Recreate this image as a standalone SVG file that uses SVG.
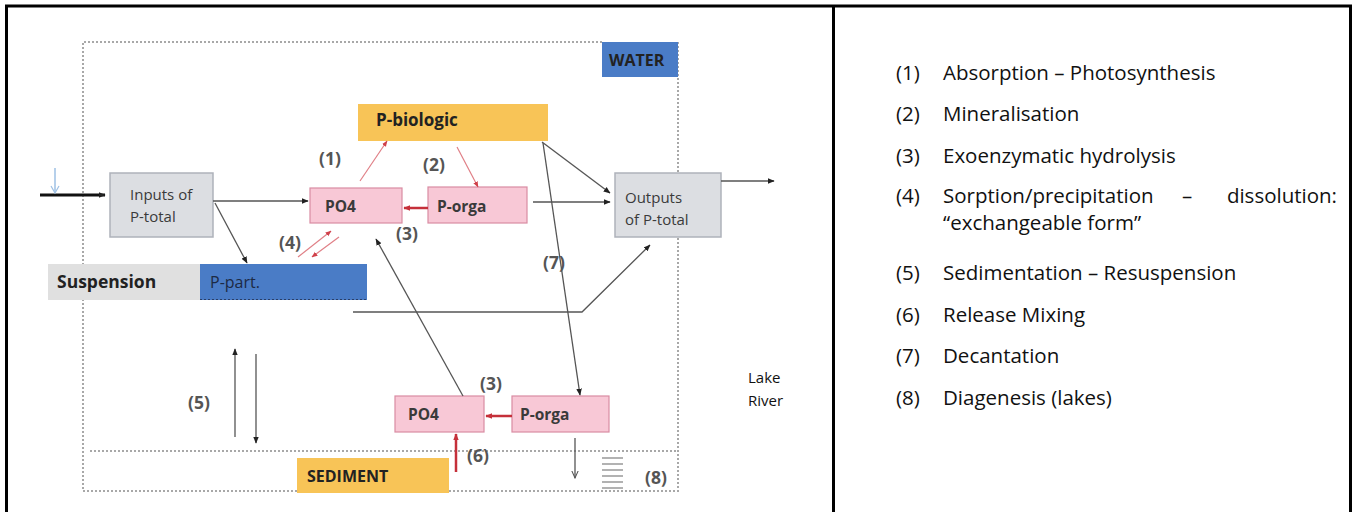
<svg xmlns="http://www.w3.org/2000/svg" width="1352" height="512" viewBox="0 0 1352 512">
<style>
text{font-family:"Open Sans","Noto Sans","Liberation Sans",sans-serif}
.lbl{font-size:15px;fill:#3a3a3a}
.box{font-size:15.5px;fill:#3a3a3a;font-weight:bold}
.num{font-size:17.5px;fill:#555;font-weight:bold}
.bold{font-weight:bold;fill:#222}
.grey{fill:#dcdee2;stroke:#aeb2ba;stroke-width:1.5}
.pink{fill:#f8c8d6;stroke:#d98ca2;stroke-width:1.2}
.orange{fill:#f8c457}
.blue{fill:#4a7cc6}
.dot{fill:none;stroke:#a8a8a8;stroke-width:2;stroke-dasharray:2 2}
.c{fill:none;stroke:#555;stroke-width:1.3}
.cr{fill:none;stroke:#c5303a;stroke-width:2.5}
.cp{fill:none;stroke:#e07f86;stroke-width:1.2}
.leg{font-size:20.5px;fill:#111}
.frame{stroke:#000;stroke-width:3;fill:none}
</style>
<defs>
<marker id="ah" viewBox="0 0 10 10" refX="9" refY="5" markerWidth="7" markerHeight="7" markerUnits="userSpaceOnUse" orient="auto"><path d="M0,1 L10,5 L0,9 z" fill="#222"/></marker>
<marker id="ahr" viewBox="0 0 10 10" refX="9" refY="5" markerWidth="7" markerHeight="7" markerUnits="userSpaceOnUse" orient="auto"><path d="M0,1 L10,5 L0,9 z" fill="#c5303a"/></marker>
<marker id="ahp" viewBox="0 0 10 10" refX="9" refY="5" markerWidth="6" markerHeight="6" markerUnits="userSpaceOnUse" orient="auto"><path d="M0,1 L10,5 L0,9 z" fill="#d0404a"/></marker>
<marker id="ahv" viewBox="0 0 10 10" refX="9" refY="5" markerWidth="8" markerHeight="8" markerUnits="userSpaceOnUse" orient="auto"><path d="M0,1 L9,5 L0,9" fill="none" stroke="#555" stroke-width="1.3"/></marker>
</defs>
<rect width="1352" height="512" fill="#fff"/>
<g id="frame">
<path class="frame" d="M6.5,512 V6 H1350.5 V512"/>
<line x1="833.5" y1="6" x2="833.5" y2="512" stroke="#000" stroke-width="3"/>
</g>
<g id="zones">
<path class="dot" d="M602,42 H83 V491 H297"/>
<path class="dot" d="M449,491 H678 V42"/>
<line class="dot" x1="90" y1="451" x2="678" y2="451"/>
</g>
<g id="water"><rect class="blue" x="602" y="42" width="76" height="35"/><text class="bold" x="609" y="66" font-size="16">WATER</text></g>
<g id="sediment"><rect class="orange" x="297" y="458" width="152" height="35"/><text class="bold" x="307" y="482" font-size="16">SEDIMENT</text></g>
<g id="suspension"><rect x="48" y="264" width="152" height="36" fill="#e0e0e0"/><text class="bold" x="57" y="288" font-size="17.5">Suspension</text></g>
<g id="p-part"><rect class="blue" x="200" y="264" width="167" height="36"/><line x1="200" y1="299.5" x2="367" y2="299.5" stroke="#2a3e66" stroke-width="1.2" stroke-dasharray="2 2"/><text x="210" y="288" font-size="16" fill="#1d2a44">P-part.</text></g>
<g id="p-biologic"><rect class="orange" x="358" y="104" width="190" height="37"/><text class="bold" x="376" y="126" font-size="17">P-biologic</text></g>
<g id="inputs"><rect class="grey" x="110" y="173" width="103" height="64"/><text class="lbl" x="130" y="200">Inputs of</text><text class="lbl" x="130" y="222">P-total</text></g>
<g id="outputs"><rect class="grey" x="615" y="173" width="106" height="64"/><text class="lbl" x="625" y="203">Outputs</text><text class="lbl" x="625" y="225">of P-total</text></g>
<g id="po4-top"><rect class="pink" x="310" y="188" width="92" height="35"/><text class="box" x="325" y="212">PO4</text></g>
<g id="porga-top"><rect class="pink" x="428" y="187" width="99" height="36"/><text class="box" x="437" y="212">P-orga</text></g>
<g id="po4-bot"><rect class="pink" x="395" y="396" width="89" height="36"/><text class="box" x="408" y="420">PO4</text></g>
<g id="porga-bot"><rect class="pink" x="512" y="396" width="97" height="36"/><text class="box" x="520" y="420">P-orga</text></g>
<g id="connectors">
<line x1="40" y1="195" x2="105" y2="195" stroke="#111" stroke-width="3" marker-end="url(#ah)"/>
<line x1="55" y1="168" x2="55" y2="192" stroke="#9ec0e4" stroke-width="1.5"/>
<path d="M51,186 L55,193 L59,186" fill="none" stroke="#9ec0e4" stroke-width="1.2"/>
<line class="c" x1="213" y1="201" x2="308" y2="201" marker-end="url(#ah)"/>
<line class="c" x1="215" y1="203" x2="247" y2="263" marker-end="url(#ah)"/>
<line class="cp" x1="360" y1="181" x2="387" y2="141" marker-end="url(#ahp)"/>
<line class="cp" x1="457" y1="147" x2="478" y2="187" marker-end="url(#ahp)"/>
<line class="cr" x1="428" y1="208" x2="404" y2="208" marker-end="url(#ahr)"/>
<line class="cp" x1="298" y1="257" x2="331" y2="231" marker-end="url(#ahp)"/>
<line class="cp" x1="339" y1="237" x2="312" y2="257" marker-end="url(#ahp)"/>
<line class="c" x1="463" y1="396" x2="376" y2="239" marker-end="url(#ah)"/>
<line class="c" x1="533" y1="202" x2="610" y2="202" marker-end="url(#ah)"/>
<line class="c" x1="542" y1="142" x2="610" y2="193" marker-end="url(#ah)"/>
<line class="c" x1="543" y1="143" x2="580" y2="395" marker-end="url(#ah)"/>
<line class="c" x1="721" y1="181" x2="774" y2="181" marker-end="url(#ah)"/>
<path class="c" d="M353,312 H582 L650,245" marker-end="url(#ah)"/>
<line class="cr" x1="512" y1="416" x2="486" y2="416" marker-end="url(#ahr)"/>
<line class="cr" x1="456" y1="472" x2="456" y2="434" marker-end="url(#ahr)"/>
<line class="c" x1="575" y1="438" x2="575" y2="478" marker-end="url(#ahv)"/>
<line class="c" x1="235" y1="437" x2="235" y2="349" marker-end="url(#ah)"/>
<line class="c" x1="256" y1="354" x2="256" y2="443" marker-end="url(#ah)"/>
<path d="M602,458 H623 M602,464 H623 M602,470 H623 M602,476 H623 M602,482 H623 M602,488 H623" stroke="#999" stroke-width="1.5"/>
</g>
<g id="labels">
<text class="num" x="319" y="165">(1)</text>
<text class="num" x="423" y="171">(2)</text>
<text class="num" x="396" y="240">(3)</text>
<text class="num" x="279" y="249">(4)</text>
<text class="num" x="188" y="409">(5)</text>
<text class="num" x="467" y="462">(6)</text>
<text class="num" x="543" y="269">(7)</text>
<text class="num" x="645" y="484">(8)</text>
<text class="num" x="480" y="390">(3)</text>
<text x="748" y="383" font-size="15" fill="#111">Lake</text>
<text x="748" y="406" font-size="15" fill="#111">River</text>
</g>
<g id="legend" class="leg">
<text class="leg" x="896" y="80">(1)</text><text class="leg" x="943" y="80">Absorption – Photosynthesis</text>
<text class="leg" x="896" y="121">(2)</text><text class="leg" x="943" y="121">Mineralisation</text>
<text class="leg" x="896" y="163">(3)</text><text class="leg" x="943" y="163">Exoenzymatic hydrolysis</text>
<text class="leg" x="896" y="203">(4)</text><text class="leg" x="943" y="203">Sorption/precipitation</text><text class="leg" x="1182" y="203">–</text><text class="leg" x="1337" y="203" text-anchor="end">dissolution:</text>
<text class="leg" x="943" y="230">“exchangeable form”</text>
<text class="leg" x="896" y="280">(5)</text><text class="leg" x="943" y="280">Sedimentation – Resuspension</text>
<text class="leg" x="896" y="322">(6)</text><text class="leg" x="943" y="322">Release Mixing</text>
<text class="leg" x="896" y="363">(7)</text><text class="leg" x="943" y="363">Decantation</text>
<text class="leg" x="896" y="405">(8)</text><text class="leg" x="943" y="405">Diagenesis (lakes)</text>
</g>
</svg>
